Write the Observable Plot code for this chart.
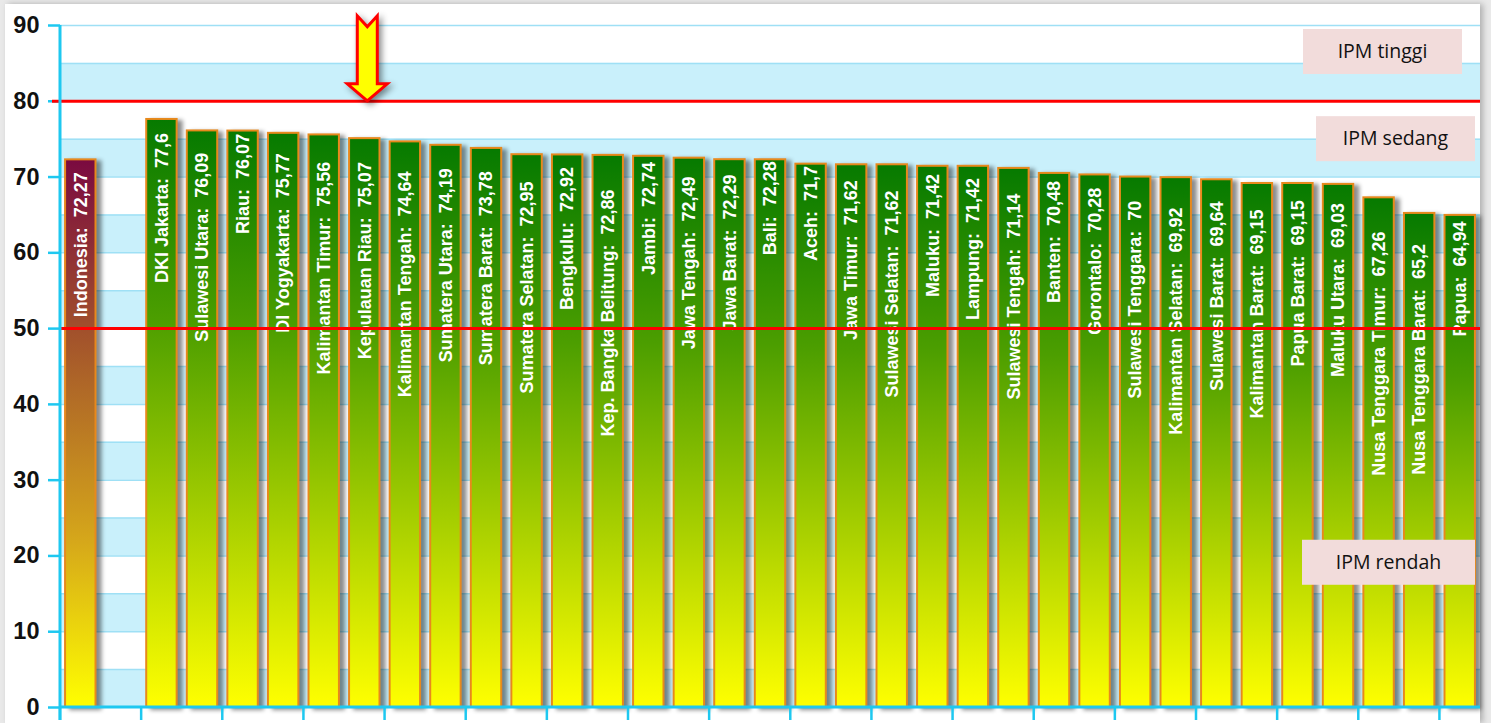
<!DOCTYPE html>
<html>
<head>
<meta charset="utf-8">
<script src="https://cdn.jsdelivr.net/npm/d3@7"></script>
<script src="https://cdn.jsdelivr.net/npm/@observablehq/plot@0.6"></script>
<style>
  html, body { margin: 0; padding: 0; background: #e9e9e9; width: 1491px; height: 723px; overflow: hidden; }
  #chart { position: absolute; left: 5px; top: 4px; width: 1475px; height: 719px; background: #ffffff;
           box-shadow: 3px 0 6px rgba(0,0,0,0.25); }
  #chart svg { overflow: visible; }
  #chart g[aria-label^="y-axis"] text { fill: #111; font: bold 23.5px "Liberation Sans", Arial, sans-serif; }
  #chart g[aria-label^="y-axis"] line, #chart g[aria-label^="y-axis"] path { stroke: #1ec8f0; stroke-width: 2.5; }
  #chart g[aria-label="bar"] { filter: drop-shadow(5px 2px 2px rgba(0,0,0,0.45)); }
  #chart .labels text { white-space: pre; }
  #chart .arrow { filter: drop-shadow(3px 3px 3px rgba(0,0,0,0.45)); }
</style>
</head>
<body>
<div id="chart"></div>
<script>
// ---- data ----
const nationalName = "Indonesia";
const nationalValue = 72.27;
const gapSlot = " ";
const provinceNames = [
  "DKI Jakarta", "Sulawesi Utara", "Riau", "DI Yogyakarta", "Kalimantan Timur",
  "Kepulauan Riau", "Kalimantan Tengah", "Sumatera Utara", "Sumatera Barat", "Sumatera Selatan",
  "Bengkulu", "Kep. Bangka Belitung", "Jambi", "Jawa Tengah", "Jawa Barat",
  "Bali", "Aceh", "Jawa Timur", "Sulawesi Selatan", "Maluku",
  "Lampung", "Sulawesi Tengah", "Banten", "Gorontalo", "Sulawesi Tenggara",
  "Kalimantan Selatan", "Sulawesi Barat", "Kalimantan Barat", "Papua Barat", "Maluku Utara",
  "Nusa Tenggara Timur", "Nusa Tenggara Barat", "Papua"
];
const provinceValues = [
  77.6, 76.09, 76.07, 75.77, 75.56,
  75.07, 74.64, 74.19, 73.78, 72.95,
  72.92, 72.86, 72.74, 72.49, 72.29,
  72.28, 71.7, 71.62, 71.62, 71.42,
  71.42, 71.14, 70.48, 70.28, 70,
  69.92, 69.64, 69.15, 69.15, 69.03,
  67.26, 65.2, 64.94
];
const yTicks = [0, 10, 20, 30, 40, 50, 60, 70, 80, 90];
const gridLines = [5, 10, 15, 20, 25, 30, 35, 40, 45, 50, 55, 60, 65, 70, 75, 80, 85, 90];
const bandStarts = [0, 10, 20, 30, 40, 50, 60, 70, 80];
const lowerThreshold = 50;
const upperThreshold = 80;
const zoneLabels = ["IPM tinggi", "IPM sedang", "IPM rendah"];
const zoneLevels = [86.5, 75, 19.1];
const highlighted = "Kepulauan Riau";

// ---- derived tables ----
const slots = [nationalName, gapSlot, ...provinceNames];
const national = [{name: nationalName, value: nationalValue}];
const provinces = provinceNames.map((name, i) => ({name, value: provinceValues[i]}));
const allRows = national.concat(provinces);
const fmt = v => String(v).replace(".", ",");

// ---- styles / layout ----
const zoneBoxLayout = [ {right: 18, w: 159}, {right: 5, w: 159}, {right: 5, w: 173} ];
const axisColor = "#1ec8f0";
const labelFont = "bold 18px 'Liberation Sans', Arial, sans-serif";

function defsMark() {
  const g = d3.create("svg:g");
  const defs = g.append("defs");
  const gp = defs.append("linearGradient").attr("id", "gradProv").attr("x1", 0).attr("y1", 0).attr("x2", 0).attr("y2", 1);
  [[0, "#067a00"], [0.34, "#4c9e00"], [0.72, "#b4d600"], [1, "#ffff00"]].forEach(([o, c]) =>
    gp.append("stop").attr("offset", o).attr("stop-color", c));
  const gn = defs.append("linearGradient").attr("id", "gradNat").attr("x1", 0).attr("y1", 0).attr("x2", 0).attr("y2", 1);
  [[0, "#7a0a40"], [0.31, "#a1502c"], [0.70, "#d6a81a"], [1, "#ffff00"]].forEach(([o, c]) =>
    gn.append("stop").attr("offset", o).attr("stop-color", c));
  return g.node();
}

function bandInfo(x) {
  const step = x(slots[2]) - x(slots[1]);
  const bw = typeof x.bandwidth === "function" ? x.bandwidth() : step * 0.75;
  return {step, bw};
}

function axesMark(index, scales, values, dims) {
  const {x, y} = scales;
  const g = d3.create("svg:g");
  const left = dims.marginLeft, right = dims.width - dims.marginRight;
  const {step, bw} = bandInfo(x);
  const off = (step - bw) / 2;
  slots.forEach((s, i) => {
    if (i % 2 === 0) {
      const bx = x(s) - off;
      g.append("line").attr("x1", bx).attr("x2", bx).attr("y1", y(0)).attr("y2", y(0) + 13)
        .attr("stroke", axisColor).attr("stroke-width", 2.5);
    }
  });
  g.append("line").attr("x1", left).attr("x2", left).attr("y1", y(90)).attr("y2", y(0) + 13)
    .attr("stroke", axisColor).attr("stroke-width", 3);
  g.append("line").attr("x1", left).attr("x2", right).attr("y1", y(0)).attr("y2", y(0))
    .attr("stroke", axisColor).attr("stroke-width", 3);
  return g.node();
}

// bar labels: rotated, placed inside the bar end the way the source chart does
function labelMark(index, scales) {
  const {x, y} = scales;
  const {bw} = bandInfo(x);
  const ctx = document.createElement("canvas").getContext("2d");
  ctx.font = labelFont;
  const g = d3.create("svg:g").attr("class", "labels").attr("fill", "#ffffff")
    .style("font", labelFont);
  allRows.forEach(d => {
    const t = d.name + ":  " + fmt(d.value);
    const L = ctx.measureText(t).width;
    const cx = x(d.name) + bw / 2;
    const cy = y(d.value) - 18 + 0.713 * L;
    g.append("text")
      .attr("transform", `translate(${cx},${cy}) rotate(-90)`)
      .attr("text-anchor", "middle").attr("dy", "0.35em")
      .text(t);
  });
  return g.node();
}

function arrowMark(index, scales) {
  const {x, y} = scales;
  const {bw} = bandInfo(x);
  const cx = x(highlighted) + bw / 2 + 3, ty = y(upperThreshold);
  const pts = [[0, 0], [-20, -17], [-10, -17], [-10, -85], [0, -74], [10, -85], [10, -17], [20, -17]];
  const g = d3.create("svg:g").attr("class", "arrow");
  g.append("path")
    .attr("d", "M" + pts.map(([a, b]) => (cx + a) + "," + (ty + b)).join("L") + "Z")
    .attr("fill", "#ffff00").attr("stroke", "#ff0000").attr("stroke-width", 3).attr("stroke-linejoin", "miter");
  return g.node();
}

function zoneMark(index, scales, values, dims) {
  const {y} = scales;
  const g = d3.create("svg:g");
  const right = dims.width - dims.marginRight;
  zoneLabels.forEach((label, i) => {
    const L = zoneBoxLayout[i];
    const cy = y(zoneLevels[i]);
    g.append("rect").attr("x", right - L.right - L.w).attr("y", cy - 22.5)
      .attr("width", L.w).attr("height", 45).attr("fill", "#f2dcdb");
    g.append("text").attr("x", right - L.right - L.w / 2).attr("y", cy)
      .attr("text-anchor", "middle").attr("dy", "0.35em")
      .attr("font-family", "'Open Sans', sans-serif").attr("font-size", 19.5).attr("fill", "#111")
      .text(label);
  });
  return g.node();
}

const svg = Plot.plot({
  width: 1475,
  height: 719,
  marginLeft: 55,
  marginRight: 0,
  marginTop: 21,
  marginBottom: 16,
  style: {background: "transparent", color: axisColor, overflow: "visible"},
  x: {type: "band", domain: slots, paddingInner: 0.25, paddingOuter: 0.125, round: false, axis: null},
  y: {domain: [0, 90], ticks: yTicks, tickSize: 12, tickPadding: 9, label: null, tickFormat: d => String(d)},
  marks: [
    defsMark,
    Plot.rect(bandStarts, {y1: d => d, y2: d => d + 5, fill: "#c9f0fb"}),
    Plot.ruleY(gridLines, {stroke: "#9fe0f5", strokeWidth: 1.5}),
    Plot.barY(national, {x: "name", y: "value", fill: "url(#gradNat)", stroke: "#e8891c", strokeWidth: 2}),
    Plot.barY(provinces, {x: "name", y: "value", fill: "url(#gradProv)", stroke: "#e8891c", strokeWidth: 2}),
    labelMark,
    Plot.ruleY([lowerThreshold], {stroke: "#ff0000", strokeWidth: 3}),
    Plot.ruleY([upperThreshold], {stroke: "#ff0000", strokeWidth: 3, insetLeft: -8}),
    axesMark,
    arrowMark,
    zoneMark
  ]
});
document.getElementById("chart").appendChild(svg);
</script>
</body>
</html>
